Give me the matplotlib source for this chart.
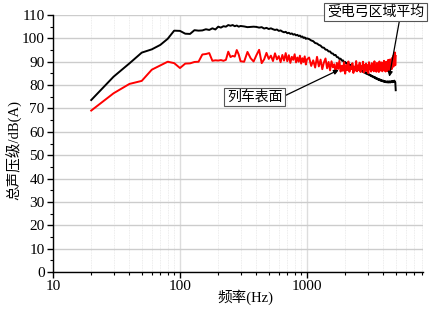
import numpy as np
import matplotlib
matplotlib.use("Agg")
import matplotlib.pyplot as plt
from matplotlib.ticker import MultipleLocator, LogLocator, NullFormatter, FixedLocator, FixedFormatter

plt.rcParams['font.family'] = ['Liberation Serif', 'Noto Sans CJK SC']

# frequency sampling (Hz)
freq = np.concatenate([np.arange(20, 301, 10), np.arange(320, 1001, 20), np.arange(1040, 5001, 40)])

black_low = [73.6, 83.6, 89.3, 93.9, 95.3, 97.2, 99.8, 103.3, 103.2, 102.0, 101.9, 103.5, 103.3, 103.4,
             103.9, 103.6, 104.3, 103.8, 105.0, 104.6, 105.2, 105.0, 105.7, 105.4, 105.7, 105.2, 105.5,
             105.0, 105.3]
black_mid = [105.1, 104.8, 104.9, 105.0, 104.9, 104.6, 104.8, 104.2, 104.5, 104.0, 104.3, 103.9, 103.6,
             103.8, 103.2, 103.4, 102.9, 102.6, 102.8, 102.2, 102.4, 101.9, 102.1, 101.6, 101.8, 101.3,
             101.5, 101.0, 101.2, 100.6, 100.8, 100.2, 100.4, 99.8, 100.0]
black_high = [99.7, 99.1, 98.8, 98.0, 97.8, 97.2, 96.9, 96.1, 96.0, 95.2, 95.1, 94.4, 94.4, 93.6, 93.5,
              92.8, 92.9, 92.0, 91.9, 91.2, 91.3, 90.5, 90.6, 89.8, 89.9, 89.2, 89.4, 88.7, 88.9, 88.2,
              88.5, 87.8, 88.0, 87.4, 87.7, 87.0, 87.2, 86.6, 86.9, 86.3, 86.5, 85.9, 86.2, 85.6, 85.8,
              85.3, 85.5, 84.9, 85.2, 84.6, 84.9, 84.3, 84.5, 84.0, 84.2, 83.7, 83.9, 83.4, 83.6, 83.1,
              83.4, 82.8, 83.1, 82.6, 82.8, 82.3, 82.6, 82.1, 82.4, 81.9, 82.2, 81.7, 82.0, 81.6, 81.9,
              81.4, 81.7, 81.3, 81.6, 81.2, 81.5, 81.2, 81.6, 81.1, 81.5, 81.2, 81.6, 81.1, 81.5, 81.3,
              81.7, 81.2, 81.6, 81.3, 81.8, 81.4, 81.9, 81.5, 81.2, 77.8]

red_low = [69.1, 76.5, 80.5, 81.8, 86.6, 88.4, 90.0, 89.4, 87.3, 89.2, 89.3, 89.9, 90.0, 93.1, 93.3,
           93.7, 90.4, 90.6, 90.5, 90.7, 90.4, 90.8, 94.3, 92.0, 92.5, 92.2, 95.0, 93.1, 90.2]
red_mid = [90.0, 94.2, 91.5, 90.1, 92.8, 95.1, 89.4, 91.0, 93.8, 91.2, 92.6, 90.3, 93.6, 91.0, 92.4,
           89.8, 92.9, 90.5, 93.7, 90.2, 92.8, 89.5, 92.1, 90.8, 93.2, 89.7, 91.8, 90.0, 92.6, 89.2,
           91.5, 89.9, 92.3, 88.8, 91.0]
red_high = [91.8, 88.2, 90.6, 87.5, 92.1, 88.0, 90.9, 86.8, 89.7, 91.4, 87.2, 89.9, 86.3, 90.2, 87.6,
            88.9, 85.4, 89.5, 86.9, 90.4, 85.8, 88.3, 86.1, 89.8, 84.9, 88.6, 86.4, 90.1, 85.7, 88.0,
            86.8, 89.4, 85.2, 87.9, 86.2, 90.3, 85.9, 88.4, 86.5, 89.6, 85.6, 88.1, 87.0, 90.0, 85.4,
            88.7, 86.3, 89.2, 86.0, 88.5, 85.1, 89.8, 86.7, 88.3, 85.8, 89.4, 86.5, 88.9, 85.9, 90.2,
            86.4, 88.0, 85.7, 89.5, 86.9, 88.6, 85.6, 90.1, 86.2, 89.0, 86.8, 89.7, 85.9, 88.8, 86.5,
            90.4, 86.3, 89.1, 85.8, 90.0, 87.2, 89.6, 86.0, 90.8, 87.5, 89.3, 86.4, 91.0, 87.1, 90.2,
            86.8, 91.6, 88.0, 92.4, 87.9, 93.1, 89.6, 94.0, 88.5, 92.5]

black = black_low + black_mid + black_high
red = red_low + red_mid + red_high

y_ticks = [0, 10, 20, 30, 40, 50, 60, 70, 80, 90, 100, 110]
x_ticks = [10, 100, 1000]
x_tick_labels = ['10', '100', '1000']
label_black = '受电弓区域平均'
label_red = '列车表面'

fig = plt.figure(figsize=(4.44, 3.10), dpi=100)
ax = fig.add_axes([53/444, 1-272/310, 370/444, 257/310])

ax.plot(freq, black, color='black', lw=1.4, zorder=3)
ax.plot(freq, red, color='#ff0000', lw=1.4, zorder=3)

ax.set_xscale('log')
ax.set_xlim(10, 8200)
ax.set_ylim(0, 110)

ax.xaxis.set_major_locator(FixedLocator(x_ticks))
ax.xaxis.set_major_formatter(FixedFormatter(x_tick_labels))
ax.xaxis.set_minor_locator(LogLocator(base=10, subs=np.arange(2, 10)))
ax.xaxis.set_minor_formatter(NullFormatter())
ax.yaxis.set_major_locator(FixedLocator(y_ticks))
ax.yaxis.set_minor_locator(MultipleLocator(5))

ax.grid(True, which='major', axis='y', color='#cccccc', lw=1.0, zorder=0)
ax.grid(True, which='major', axis='x', color='#dddddd', lw=1.0, zorder=0)
ax.grid(True, which='minor', axis='x', color='#e6e6e6', lw=0.6, ls=(0, (1, 1)), zorder=0)

for s in ['top', 'right']:
    ax.spines[s].set_visible(False)
for s in ['left', 'bottom']:
    ax.spines[s].set_linewidth(1.0)

ax.tick_params(which='major', direction='out', length=4, width=1, labelsize=11, pad=2)
ax.tick_params(which='minor', direction='out', length=2, width=0.8)

fig.text(14/444, 1-150/310, '总声压级/dB(A)', fontsize=10.5, rotation=90, ha='center', va='center')
fig.text(245/444, 1-297/310, '频率(Hz)', fontsize=10.5, ha='center', va='center')

bbox = dict(boxstyle='square,pad=0.2', fc='white', ec='#555555', lw=0.8)
ax.annotate(label_black, xy=(4450, 83.6), xytext=(375.5, 310-12), textcoords='figure pixels',
            fontsize=10, ha='center', va='center', bbox=bbox, zorder=5,
            arrowprops=dict(arrowstyle='-|>', color='black', lw=0.9, mutation_scale=7,
                            shrinkA=0, shrinkB=0, relpos=(0.75, 0.0)), annotation_clip=False)
ax.annotate(label_red, xy=(1780, 86.5), xytext=(254.5, 310-97), textcoords='figure pixels',
            fontsize=10, ha='center', va='center', bbox=bbox, zorder=5,
            arrowprops=dict(arrowstyle='-|>', color='black', lw=0.9, mutation_scale=7,
                            shrinkA=0, shrinkB=0, relpos=(1.0, 0.5)))

fig.savefig('out.png', dpi=100)
